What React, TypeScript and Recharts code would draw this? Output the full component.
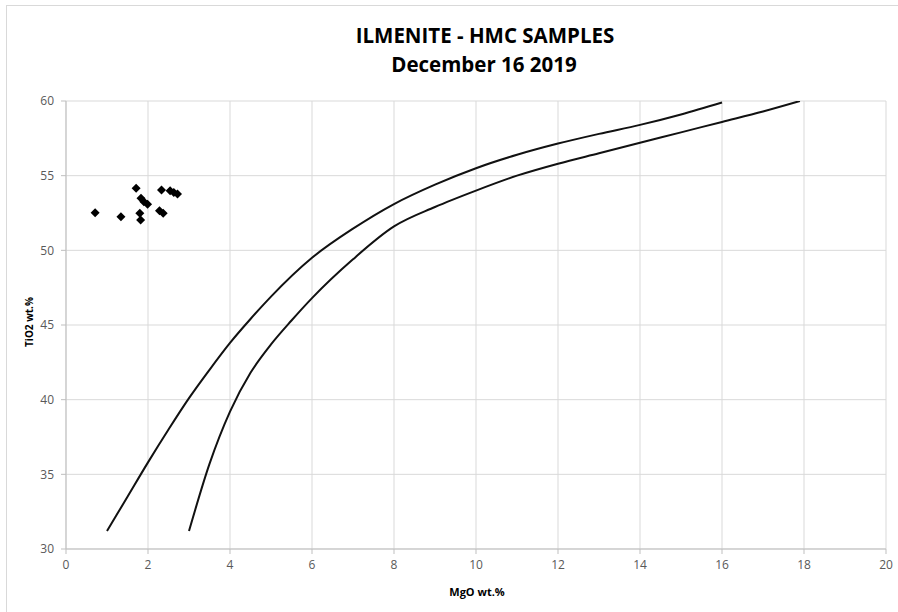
import { ComposedChart, Line, Scatter, XAxis, YAxis, CartesianGrid } from "recharts";

// sample points (MgO wt.%, TiO2 wt.%)
const sampleMgo = [0.71, 1.34, 1.71, 1.83, 1.9, 1.99, 1.8, 1.82, 2.28, 2.37, 2.33, 2.54, 2.63, 2.72];
const sampleTio2 = [52.52, 52.25, 54.15, 53.48, 53.26, 53.08, 52.48, 52.03, 52.65, 52.48, 54.04, 53.99, 53.88, 53.77];

// upper boundary curve
const upperMgo = [1, 1.5, 2, 2.5, 3, 3.5, 4, 4.5, 5, 6, 7, 8, 9, 10, 11, 12, 13, 14, 15, 16];
const upperTio2 = [31.2, 33.5, 35.8, 38.0, 40.1, 42.0, 43.8, 45.4, 46.9, 49.5, 51.45, 53.1, 54.4, 55.5, 56.4, 57.15, 57.8, 58.4, 59.1, 59.9];

// lower boundary curve
const lowerMgo = [3, 3.5, 4, 4.5, 5, 5.5, 6, 7, 8, 9, 10, 11, 12, 13, 14, 15, 16, 17, 17.9];
const lowerTio2 = [31.2, 35.7, 39.2, 41.8, 43.7, 45.3, 46.8, 49.4, 51.6, 52.9, 54.0, 55.0, 55.8, 56.5, 57.2, 57.9, 58.6, 59.3, 60.0];

const xTicks = [0, 2, 4, 6, 8, 10, 12, 14, 16, 18, 20];
const yTicks = [30, 35, 40, 45, 50, 55, 60];

const samples = sampleMgo.map((x, i) => ({ x, y: sampleTio2[i] }));
const upper = upperMgo.map((x, i) => ({ x, y: upperTio2[i] }));
const lower = lowerMgo.map((x, i) => ({ x, y: lowerTio2[i] }));

const Diamond = (props: any) => {
  const { cx, cy } = props;
  const r = 4.5;
  return <polygon points={`${cx},${cy - r} ${cx + r},${cy} ${cx},${cy + r} ${cx - r},${cy}`} fill="#000" />;
};

const tickStyle = { fontSize: 12, fill: "#595959", fontFamily: "Open Sans" };

export default function App() {
  return (
    <div style={{ position: "absolute", left: 0, top: 0, width: 898, height: 612, overflow: "hidden", background: "#fff" }}>
      <div style={{ position: "absolute", left: 6, top: 5, width: 900, height: 620, border: "1px solid #d9d9d9" }} />
      <ComposedChart width={898} height={612} margin={{ top: 101, right: 12, bottom: 33, left: 6 }}>
        <CartesianGrid stroke="#d9d9d9" />
        <XAxis
          dataKey="x"
          type="number"
          domain={[0, 20]}
          ticks={xTicks}
          height={30}
          tickSize={5}
          tickMargin={6}
          stroke="#bfbfbf"
          tick={tickStyle}
          allowDataOverflow
        />
        <YAxis
          dataKey="y"
          type="number"
          domain={[30, 60]}
          ticks={yTicks}
          width={60}
          tickSize={5}
          tickMargin={7}
          stroke="#bfbfbf"
          tick={tickStyle}
          allowDataOverflow
        />
        <Line data={upper} dataKey="y" type="monotone" stroke="#111" strokeWidth={2} dot={false} isAnimationActive={false} />
        <Line data={lower} dataKey="y" type="monotone" stroke="#111" strokeWidth={2} dot={false} isAnimationActive={false} />
        <Scatter data={samples} dataKey="y" shape={<Diamond />} isAnimationActive={false} />
      </ComposedChart>
      <svg width={898} height={612} style={{ position: "absolute", left: 0, top: 0, pointerEvents: "none" }}>
        <g fontFamily="Open Sans" fontWeight="bold" fill="#000" textAnchor="middle">
          <text x={485} y={43} fontSize={20.5}>ILMENITE - HMC SAMPLES</text>
          <text x={484} y={72} fontSize={20.5}>December 16 2019</text>
          <text x={477} y={596} fontSize={11}>MgO wt.%</text>
          <text x={33} y={322} fontSize={10} transform="rotate(-90 33 322)">TiO2 wt.%</text>
        </g>
      </svg>
    </div>
  );
}
